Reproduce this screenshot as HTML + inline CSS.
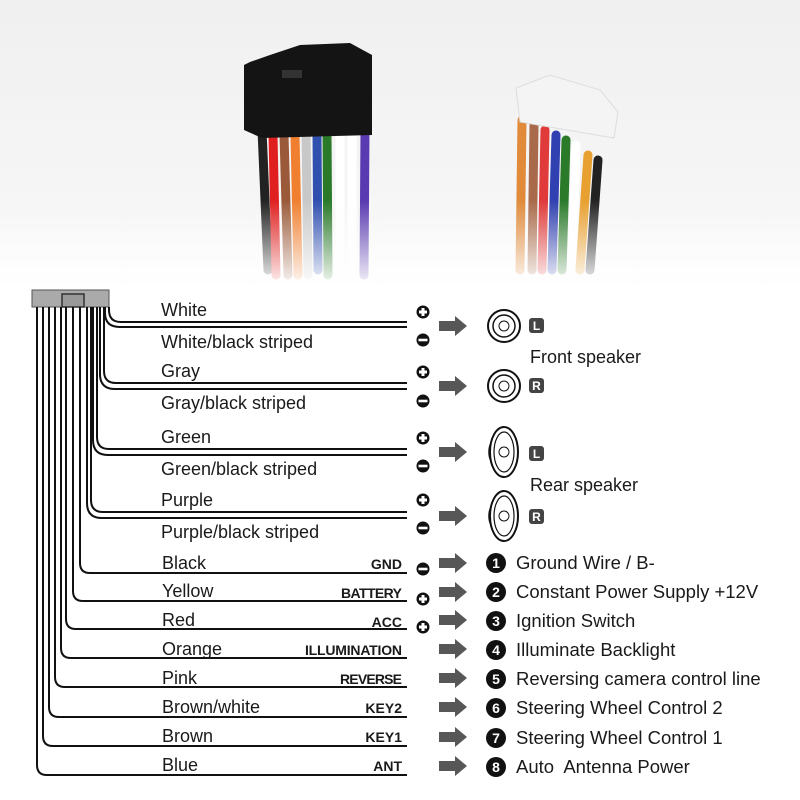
<!DOCTYPE html>
<html><head><meta charset="utf-8"><style>
html,body{margin:0;padding:0;background:#fff}
svg{display:block}
text{font-family:"Liberation Sans",sans-serif}
.l{font-size:18px;fill:#1a1a1a}
.r{font-size:18.5px;fill:#1a1a1a}
.c{font-size:14px;font-weight:bold;font-family:"Liberation Sans Narrow","Liberation Sans",sans-serif;fill:#1a1a1a}
.w{fill:#fff;font-weight:bold}
</style></head><body>
<svg width="800" height="800" viewBox="0 0 800 800" xmlns="http://www.w3.org/2000/svg">
<defs>
<linearGradient id="bg" x1="0" y1="0" x2="0" y2="1"><stop offset="0" stop-color="#f0f0f0"/><stop offset="0.75" stop-color="#f6f6f6"/><stop offset="1" stop-color="#fff"/></linearGradient>
<linearGradient id="fade" x1="0" y1="0" x2="0" y2="1"><stop offset="0" stop-color="#fafafa" stop-opacity="0"/><stop offset="1" stop-color="#fff" stop-opacity="1"/></linearGradient>
<g id="plus"><circle r="6.5" fill="#111"/><rect x="-4" y="-1.5" width="8" height="3" fill="#fff"/><rect x="-1.5" y="-4" width="3" height="8" fill="#fff"/></g>
<g id="minus"><circle r="6.5" fill="#111"/><rect x="-4.5" y="-1.3" width="9" height="2.6" fill="#fff"/></g>
<path id="arr" d="M0,-5 H16 V-10 L28,0 L16,10 V5 H0 Z" fill="#575757"/>
<g id="spk"><ellipse cx="-7" cy="0" rx="6" ry="12" fill="#bbb" stroke="#111" stroke-width="1.5"/><circle r="16" fill="#fff" stroke="#111" stroke-width="2"/><circle r="11" fill="#fff" stroke="#111" stroke-width="1.5"/><circle r="5" fill="#fff" stroke="#111" stroke-width="1"/></g>
<g id="rspk"><ellipse cx="-9" cy="0" rx="6" ry="12" fill="#bbb" stroke="#111" stroke-width="1.5"/><ellipse rx="14" ry="25" fill="#fff" stroke="#111" stroke-width="2"/><ellipse rx="10" ry="20" fill="#fff" stroke="#111" stroke-width="1.2"/><circle r="5" fill="#fff" stroke="#111" stroke-width="1"/></g>
</defs>
<rect width="800" height="290" fill="url(#bg)"/>
<g stroke-width="9" fill="none" stroke-linecap="round">
<path d="M262,130 L268,270" stroke="#222"/>
<path d="M273,135 L276,275" stroke="#e02020"/>
<path d="M284,135 L288,275" stroke="#9a5a3a"/>
<path d="M295,135 L298,275" stroke="#f08030"/>
<path d="M306,130 L308,275" stroke="#c8c8c8"/>
<path d="M317,135 L318,270" stroke="#3050b0"/>
<path d="M327,135 L328,275" stroke="#2a7a2a"/>
<path d="M340,120 L340,275" stroke="#fff"/>
<path d="M352,120 L352,275" stroke="#fff"/>
<path d="M365,130 L364,275" stroke="#5a3ab0"/>
<path d="M522,120 L520,270" stroke="#e08a3a"/>
<path d="M534,125 L532,270" stroke="#a86a4a"/>
<path d="M545,130 L542,270" stroke="#e03a3a"/>
<path d="M556,135 L552,270" stroke="#3040b0"/>
<path d="M566,140 L562,270" stroke="#2a7a2a"/>
<path d="M576,145 L572,270" stroke="#fff"/>
<path d="M588,155 L580,270" stroke="#e8a030"/>
<path d="M598,160 L590,270" stroke="#222"/>
</g>
<path d="M244,65 L250,62 L270,55 L300,45 L350,43 L372,55 L372,135 L262,138 L244,130 Z" fill="#141414"/>
<rect x="282" y="70" width="20" height="8" fill="#333"/>
<path d="M516,88 L550,75 L600,90 L618,112 L614,138 L520,122 Z" fill="#f4f4f4" stroke="#ddd"/>
<rect x="0" y="200" width="800" height="90" fill="url(#fade)"/>
<rect x="32" y="290" width="77" height="17" fill="#aaa" stroke="#555" stroke-width="1"/>
<rect x="62" y="294" width="22" height="13" fill="#999" stroke="#333" stroke-width="1.5"/>
<g fill="none" stroke="#111" stroke-width="2">
<path d="M37,307 V765 Q37,775 47,775 H407"/>
<path d="M43,307 V736 Q43,746 53,746 H407"/>
<path d="M49,307 V707 Q49,717 59,717 H407"/>
<path d="M55,307 V677 Q55,687 65,687 H407"/>
<path d="M61,307 V648 Q61,658 71,658 H407"/>
<path d="M66,307 V619 Q66,629 76,629 H407"/>
<path d="M73,307 V591 Q73,601 83,601 H407"/>
<path d="M80,307 V563 Q80,573 90,573 H407"/>
<path d="M87,307 V503 Q87,518 102,518 H407"/><path d="M91,307 V500 Q91,512 103,512 H407"/>
<path d="M93,307 V440 Q93,455 108,455 H407"/><path d="M97,307 V437 Q97,449 109,449 H407"/>
<path d="M100,307 V374 Q100,389 115,389 H407"/><path d="M104,307 V371 Q104,383 116,383 H407"/>
<path d="M105,307 V313 Q105,327 120,327 H407"/><path d="M109,307 V310 Q109,322 121,322 H407"/>
</g>
<g class="l">
<text x="161" y="316">White</text><text x="161" y="348">White/black striped</text>
<text x="161" y="377">Gray</text><text x="161" y="409">Gray/black striped</text>
<text x="161" y="443">Green</text><text x="161" y="475">Green/black striped</text>
<text x="161" y="506">Purple</text><text x="161" y="538">Purple/black striped</text>
<text x="162" y="569">Black</text><text x="162" y="597">Yellow</text><text x="162" y="626">Red</text>
<text x="162" y="655">Orange</text><text x="162" y="684">Pink</text><text x="162" y="713">Brown/white</text>
<text x="162" y="742">Brown</text><text x="162" y="771">Blue</text>
</g>
<g class="c" text-anchor="end">
<text x="402" y="569">GND</text><text x="402" y="598" textLength="61">BATTERY</text><text x="402" y="627">ACC</text>
<text x="402" y="655" textLength="97">ILLUMINATION</text><text x="402" y="684" textLength="62">REVERSE</text>
<text x="402" y="713">KEY2</text><text x="402" y="742">KEY1</text><text x="402" y="771">ANT</text>
</g>
<use href="#plus" x="423" y="312"/><use href="#minus" x="423" y="340"/>
<use href="#plus" x="423" y="372"/><use href="#minus" x="423" y="401"/>
<use href="#plus" x="423" y="438"/><use href="#minus" x="423" y="466"/>
<use href="#plus" x="423" y="500"/><use href="#minus" x="423" y="528"/>
<use href="#minus" x="423" y="569"/><use href="#plus" x="423" y="599"/><use href="#plus" x="423" y="627"/>
<use href="#arr" x="439" y="326"/><use href="#arr" x="439" y="386"/>
<use href="#arr" x="439" y="452"/><use href="#arr" x="439" y="516"/>
<use href="#arr" x="439" y="563"/><use href="#arr" x="439" y="592"/><use href="#arr" x="439" y="620"/>
<use href="#arr" x="439" y="649"/><use href="#arr" x="439" y="678"/><use href="#arr" x="439" y="707"/>
<use href="#arr" x="439" y="737"/><use href="#arr" x="439" y="766"/>
<use href="#spk" x="504" y="326"/><use href="#spk" x="504" y="386"/>
<use href="#rspk" x="504" y="452"/><use href="#rspk" x="504" y="516"/>
<rect x="529" y="318" width="15" height="15" rx="3" fill="#444"/>
<rect x="529" y="378" width="15" height="15" rx="3" fill="#444"/>
<rect x="529" y="446" width="15" height="15" rx="3" fill="#444"/>
<rect x="529" y="509" width="15" height="15" rx="3" fill="#444"/>
<g font-size="12" text-anchor="middle">
<text class="w" x="536.5" y="330">L</text>
<text class="w" x="536.5" y="390">R</text>
<text class="w" x="536.5" y="458">L</text>
<text class="w" x="536.5" y="521">R</text>
</g>
<text class="l" x="530" y="363">Front speaker</text>
<text class="l" x="530" y="491">Rear speaker</text>
<g fill="#111">
<circle cx="496" cy="563" r="10"/><circle cx="496" cy="592" r="10"/><circle cx="496" cy="621" r="10"/>
<circle cx="496" cy="650" r="10"/><circle cx="496" cy="679" r="10"/><circle cx="496" cy="708" r="10"/>
<circle cx="496" cy="738" r="10"/><circle cx="496" cy="767" r="10"/>
</g>
<g font-size="14" text-anchor="middle">
<text class="w" x="496" y="568">1</text><text class="w" x="496" y="597">2</text>
<text class="w" x="496" y="626">3</text><text class="w" x="496" y="655">4</text>
<text class="w" x="496" y="684">5</text><text class="w" x="496" y="713">6</text>
<text class="w" x="496" y="743">7</text><text class="w" x="496" y="772">8</text>
</g>
<g class="r">
<text x="516" y="569">Ground Wire / B-</text>
<text x="516" y="598">Constant Power Supply +12V</text>
<text x="516" y="627">Ignition Switch</text>
<text x="516" y="656">Illuminate Backlight</text>
<text x="516" y="685">Reversing camera control line</text>
<text x="516" y="714">Steering Wheel Control 2</text>
<text x="516" y="744">Steering Wheel Control 1</text>
<text x="516" y="773" xml:space="preserve">Auto  Antenna Power</text>
</g>
</svg>
</body></html>
